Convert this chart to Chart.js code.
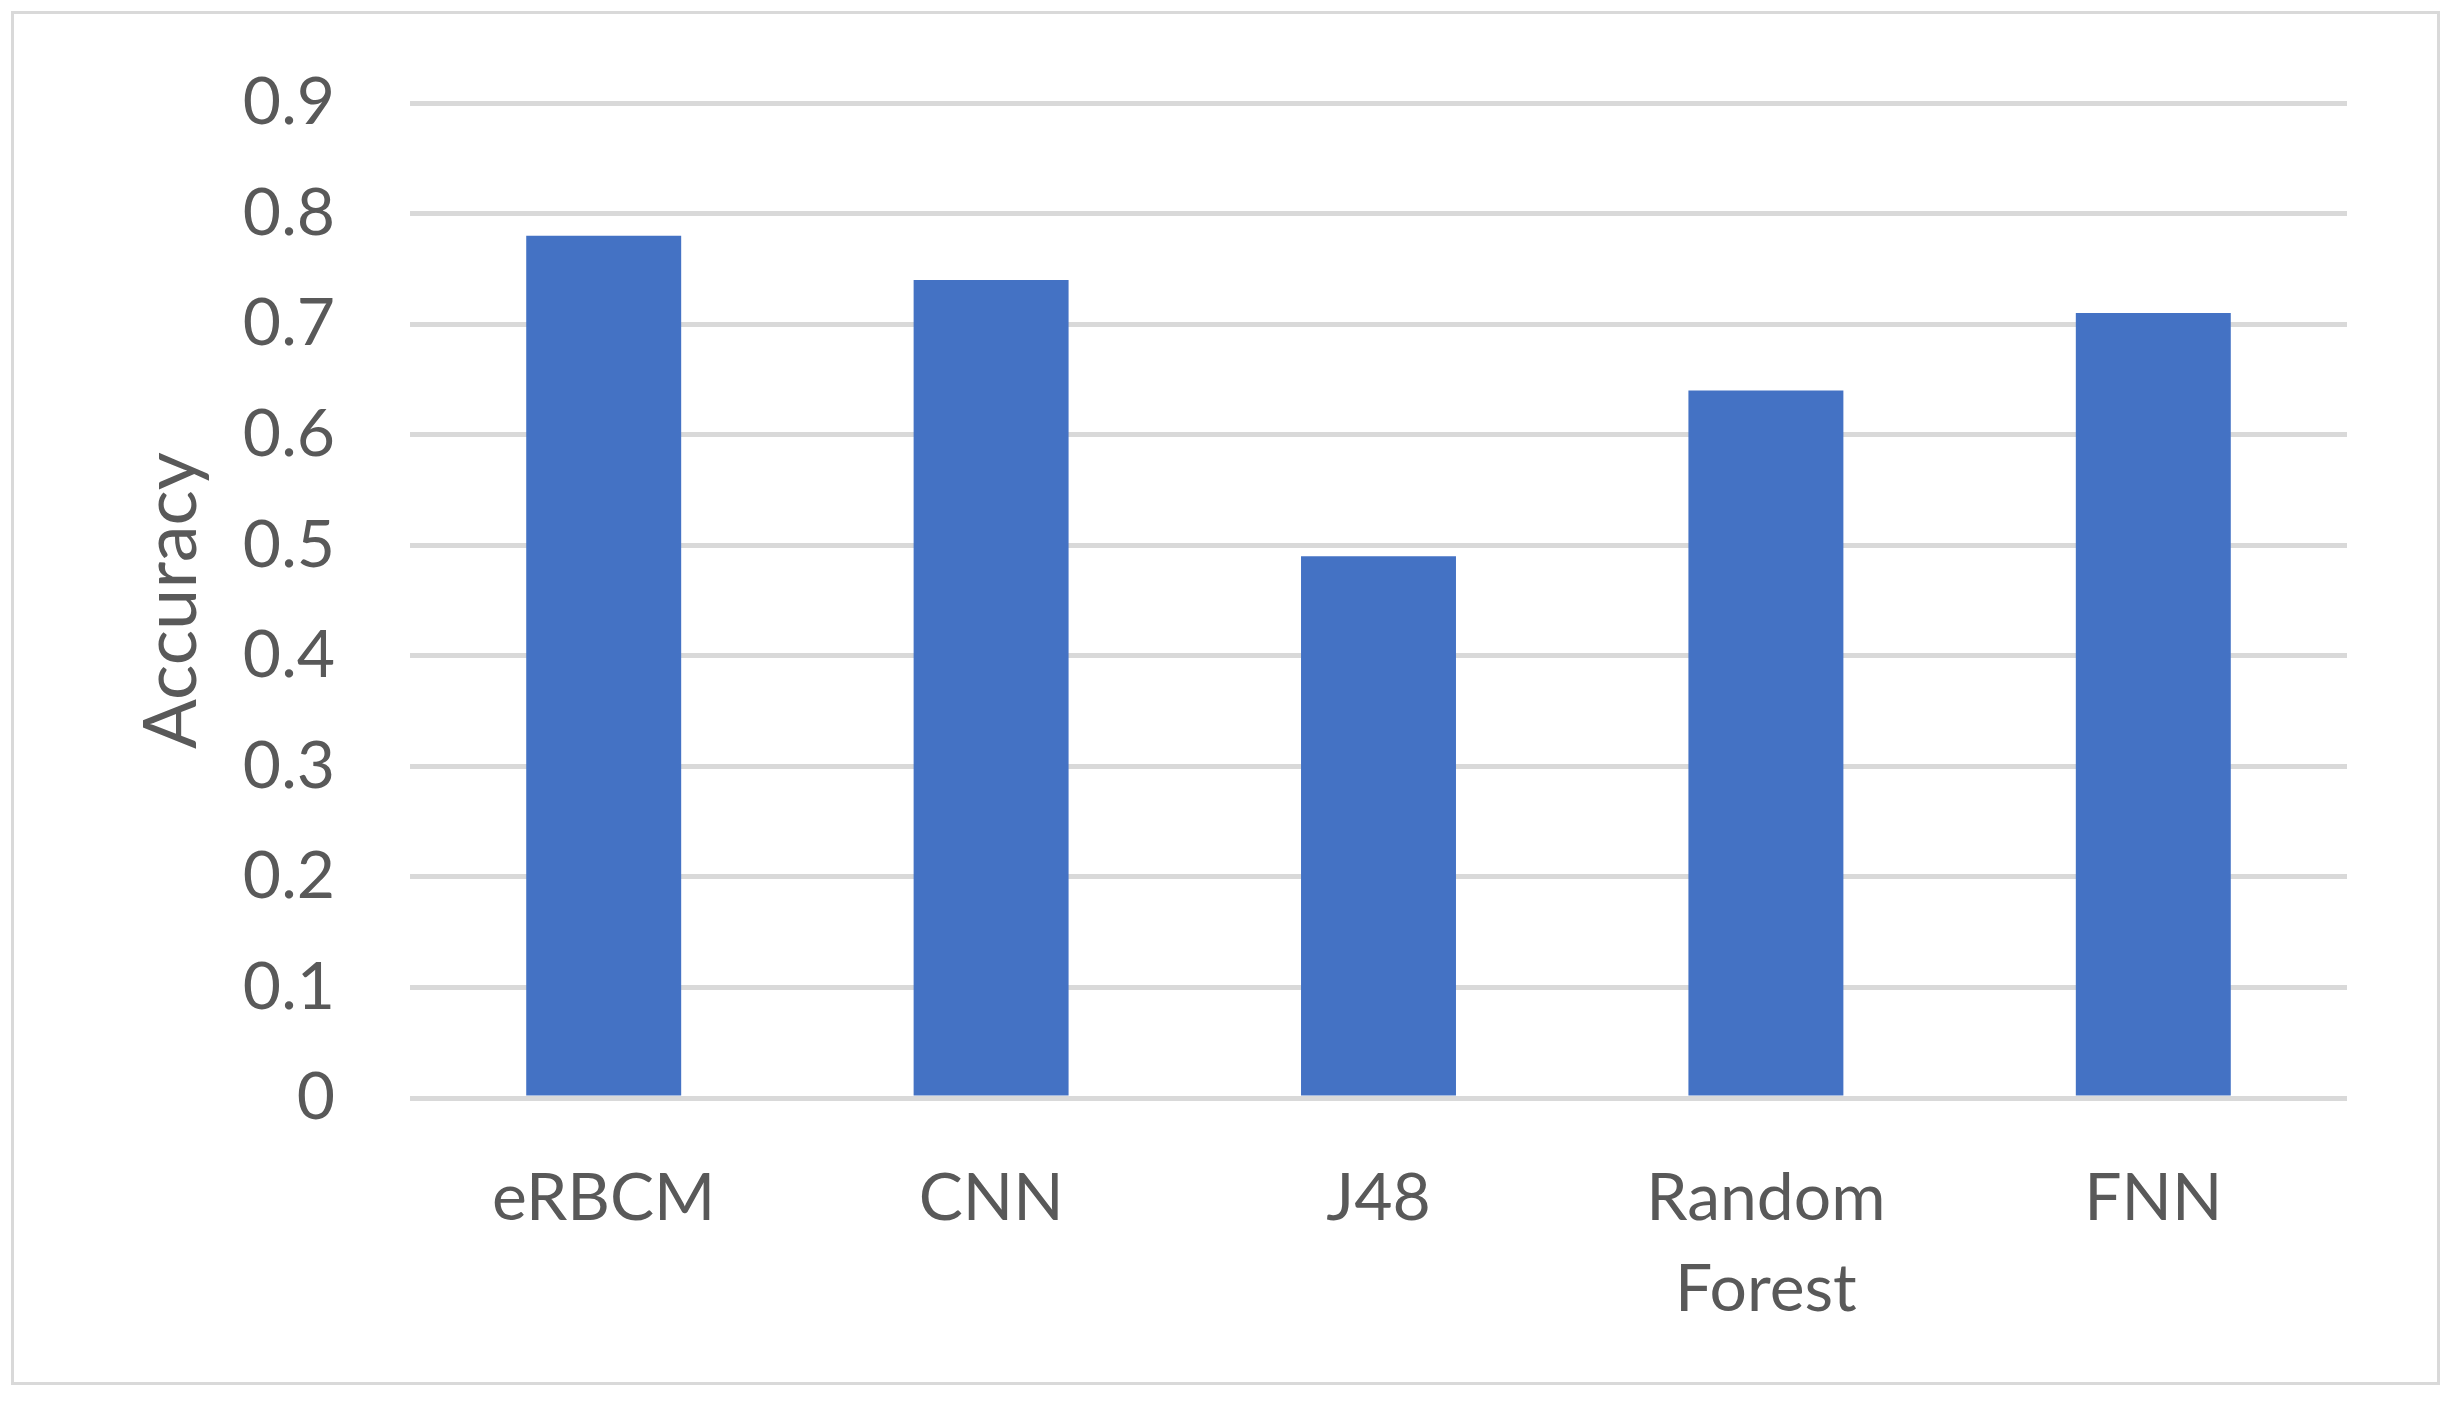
<!DOCTYPE html>
<html>
<head>
<meta charset="utf-8">
<title>Accuracy by model</title>
<script src="https://cdn.jsdelivr.net/npm/chart.js@4"></script>
<style>
  html, body { margin: 0; padding: 0; background: #fff; }
  canvas { display: block; }
</style>
</head>
<body>
<canvas id="chart" width="2453" height="1402"></canvas>
<script>
// Accuracy of each classifier

const MODELS = ["eRBCM", "CNN", "J48", ["Random", "Forest"], "FNN"];
const ACCURACY = [0.78, 0.74, 0.49, 0.64, 0.71];
const Y_MIN = 0;
const Y_MAX = 0.9;
const Y_STEP = 0.1;

const COLORS = {
  bar: "#4472C4",
  grid: "#d9d9d9",
  text: "#595959",
  frame: "#d9d9d9"
};

const FONT = "Lato, 'Open Sans', sans-serif";

// light grey frame round the whole chart, like the Excel chart area border
const framePlugin = {
  id: "frame",
  beforeDraw(chart) {
    const ctx = chart.ctx;
    ctx.save();
    ctx.fillStyle = "#fff";
    ctx.fillRect(0, 0, chart.width, chart.height);
    ctx.strokeStyle = COLORS.frame;
    ctx.lineWidth = 3;
    ctx.strokeRect(12.5, 12.5, chart.width - 27, chart.height - 31);
    ctx.restore();
  }
};

new Chart(document.getElementById("chart"), {
  type: "bar",
  data: {
    labels: MODELS,
    datasets: [{
      label: "Accuracy",
      data: ACCURACY,
      backgroundColor: COLORS.bar,
      barPercentage: 0.4,
      categoryPercentage: 1
    }]
  },
  options: {
    responsive: false,
    animation: false,
    devicePixelRatio: 1,
    layout: { padding: { top: 103, right: 106, bottom: 0, left: 0 } },
    plugins: {
      legend: { display: false },
      tooltip: { enabled: false }
    },
    scales: {
      x: {
        grid: { display: false },
        border: { display: false },
        ticks: {
          color: COLORS.text,
          font: { family: FONT, size: 66, lineHeight: 1.38 },
          padding: 47,
          maxRotation: 0,
          autoSkip: false
        },
        afterFit: (s) => { s.height = 304; }
      },
      y: {
        min: Y_MIN,
        max: Y_MAX,
        grid: { color: COLORS.grid, lineWidth: 5, drawTicks: false },
        border: { display: false },
        ticks: {
          stepSize: Y_STEP,
          color: COLORS.text,
          font: { family: FONT, size: 66 },
          padding: 75,
          callback: (v) => String(+v.toFixed(1))
        },
        title: {
          display: true,
          text: "Accuracy",
          color: COLORS.text,
          font: { family: FONT, size: 74, lineHeight: 1.2 },
          padding: { top: 128, bottom: 0 }
        },
        // fixed axis width; tick padding would otherwise push the plot top down
        afterFit: (s) => {
          s.width = 410;
          s.paddingTop = 0;
          s.paddingBottom = 0;
        }
      }
    }
  },
  plugins: [framePlugin]
});
</script>
</body>
</html>
